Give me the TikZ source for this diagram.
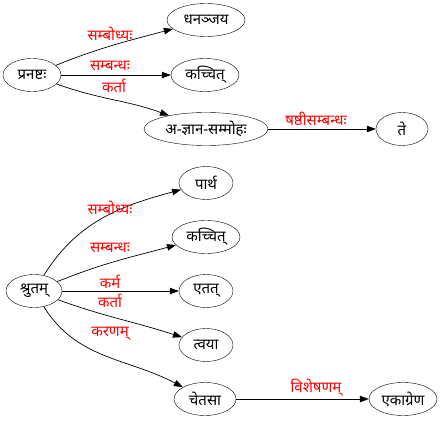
\documentclass[tikz,border=0pt]{standalone}
\usepackage{fontspec}
\setmainfont[Script=Devanagari]{Noto Sans}
\usetikzlibrary{arrows.meta,shapes.geometric}
\tikzset{
  nd/.style={draw, ellipse, minimum height=33pt, inner sep=0pt, font=\fontsize{15}{17}\selectfont},
  lab/.style={text=red, font=\fontsize{15}{17}\selectfont, inner sep=1pt},
  ed/.style={-{Triangle[length=9pt,width=6.5pt]}, line width=0.7pt},
}
\begin{document}
\begin{tikzpicture}[x=1pt,y=-1pt]
\useasboundingbox (0,0) rectangle (444,422);
% top tree
\node[nd, minimum width=58pt] (pran) at (32,75) {प्रनष्टः};
\node[nd, minimum width=78pt] (dhan) at (206,20) {धनञ्जय};
\node[nd, minimum width=68pt] (kac1) at (205,75) {कच्चित्};
\node[nd, minimum width=124pt] (ajn) at (206,129) {अ-ज्ञान-सम्मोहः};
\node[nd, minimum width=52pt] (te) at (402,129) {ते};
% bottom tree
\node[nd, minimum width=56pt] (shrut) at (34,291) {श्रुतम्};
\node[nd, minimum width=54pt] (parth) at (206,183) {पार्थ};
\node[nd, minimum width=68pt] (kac2) at (206,237) {कच्चित्};
\node[nd, minimum width=54pt] (etat) at (206,291) {एतत्};
\node[nd, minimum width=54pt] (tvaya) at (206,345) {त्वया};
\node[nd, minimum width=62pt] (cetasa) at (205,399) {चेतसा};
\node[nd, minimum width=68pt] (ekagr) at (403,399) {एकाग्रेण};

\draw[ed] (pran) to[out=22,in=195] (dhan);
\draw[ed] (pran) -- (kac1);
\draw[ed] (pran) to[out=-20,in=160] (ajn);
\draw[ed] (ajn) -- (te);

\draw[ed] (shrut) to[out=58,in=195] (parth);
\draw[ed] (shrut) to[out=22,in=195] (kac2);
\draw[ed] (shrut) -- (etat);
\draw[ed] (shrut) to[out=-20,in=162] (tvaya);
\draw[ed] (shrut) to[out=-58,in=152] (cetasa);
\draw[ed] (cetasa) -- (ekagr);

\node[lab] (l1) at (110,34) {सम्बोध्यः};
\node[lab] (l2) at (110,66) {सम्बन्धः};
\node[lab] (l3) at (114,86) {कर्ता};
\node[lab] (l4) at (316,119) {षष्ठीसम्बन्धः};
\node[lab] (l5) at (110,208) {सम्बोध्यः};
\node[lab] (l6) at (110,248) {सम्बन्धः};
\node[lab] (l7) at (110,282) {कर्म};
\node[lab] (l8) at (110,301) {कर्ता};
\node[lab] (l9) at (110,334) {करणम्};
\node[lab] (l10) at (316,388) {विशेषणम्};
\end{tikzpicture}
\end{document}
